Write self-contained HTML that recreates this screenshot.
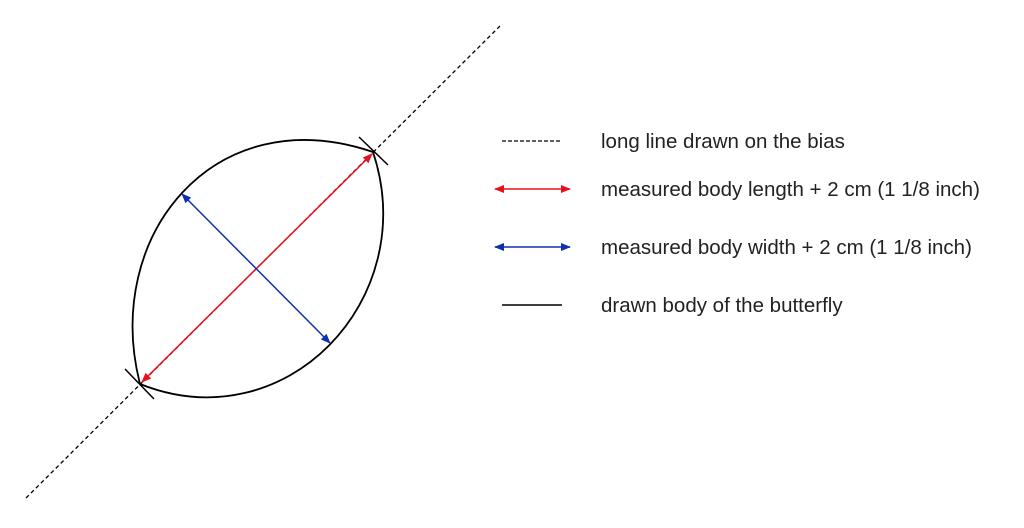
<!DOCTYPE html>
<html><head><style>
body{margin:0;background:#fff;width:1024px;height:523px;overflow:hidden}
</style></head><body>
<svg width="1024" height="523" xmlns="http://www.w3.org/2000/svg">
<defs>
<marker id="r" markerWidth="10" markerHeight="8" refX="9" refY="4" orient="auto-start-reverse" markerUnits="userSpaceOnUse"><path d="M0,0 L10,4 L0,8 z" fill="#e8101c"/></marker>
<marker id="b" markerWidth="10" markerHeight="8" refX="9" refY="4" orient="auto-start-reverse" markerUnits="userSpaceOnUse"><path d="M0,0 L10,4 L0,8 z" fill="#1030b0"/></marker>
</defs>
<line x1="26" y1="498" x2="500" y2="26" stroke="#000" stroke-width="1.3" stroke-dasharray="4,3"/>
<path d="M140,384 C102,235 215,98 373,152" fill="none" stroke="#000" stroke-width="1.8"/>
<path d="M140,384 C285,442 422,300 373,152" fill="none" stroke="#000" stroke-width="1.8"/>
<line x1="359" y1="137" x2="388" y2="165" stroke="#000" stroke-width="1.5"/>
<line x1="125" y1="369" x2="154" y2="399" stroke="#000" stroke-width="1.5"/>
<line x1="142" y1="382" x2="372" y2="154" stroke="#e8101c" stroke-width="1.5" marker-start="url(#r)" marker-end="url(#r)"/>
<line x1="182" y1="194" x2="330" y2="343" stroke="#1030b0" stroke-width="1.5" marker-start="url(#b)" marker-end="url(#b)"/>
<line x1="502" y1="141" x2="562" y2="141" stroke="#000" stroke-width="1.3" stroke-dasharray="4,2"/>
<line x1="495" y1="189" x2="570" y2="189" stroke="#e8101c" stroke-width="1.5" marker-start="url(#r)" marker-end="url(#r)"/>
<line x1="495" y1="247" x2="570" y2="247" stroke="#1030b0" stroke-width="1.5" marker-start="url(#b)" marker-end="url(#b)"/>
<line x1="502" y1="305" x2="562" y2="305" stroke="#000" stroke-width="1.5"/>
<g font-family="Liberation Sans, sans-serif" font-size="20.5" fill="#222">
<text x="601" y="148">long line drawn on the bias</text>
<text x="601" y="196">measured body length + 2 cm (1 1/8 inch)</text>
<text x="601" y="254">measured body width + 2 cm (1 1/8 inch)</text>
<text x="601" y="312">drawn body of the butterfly</text>
</g>
</svg>
</body></html>
